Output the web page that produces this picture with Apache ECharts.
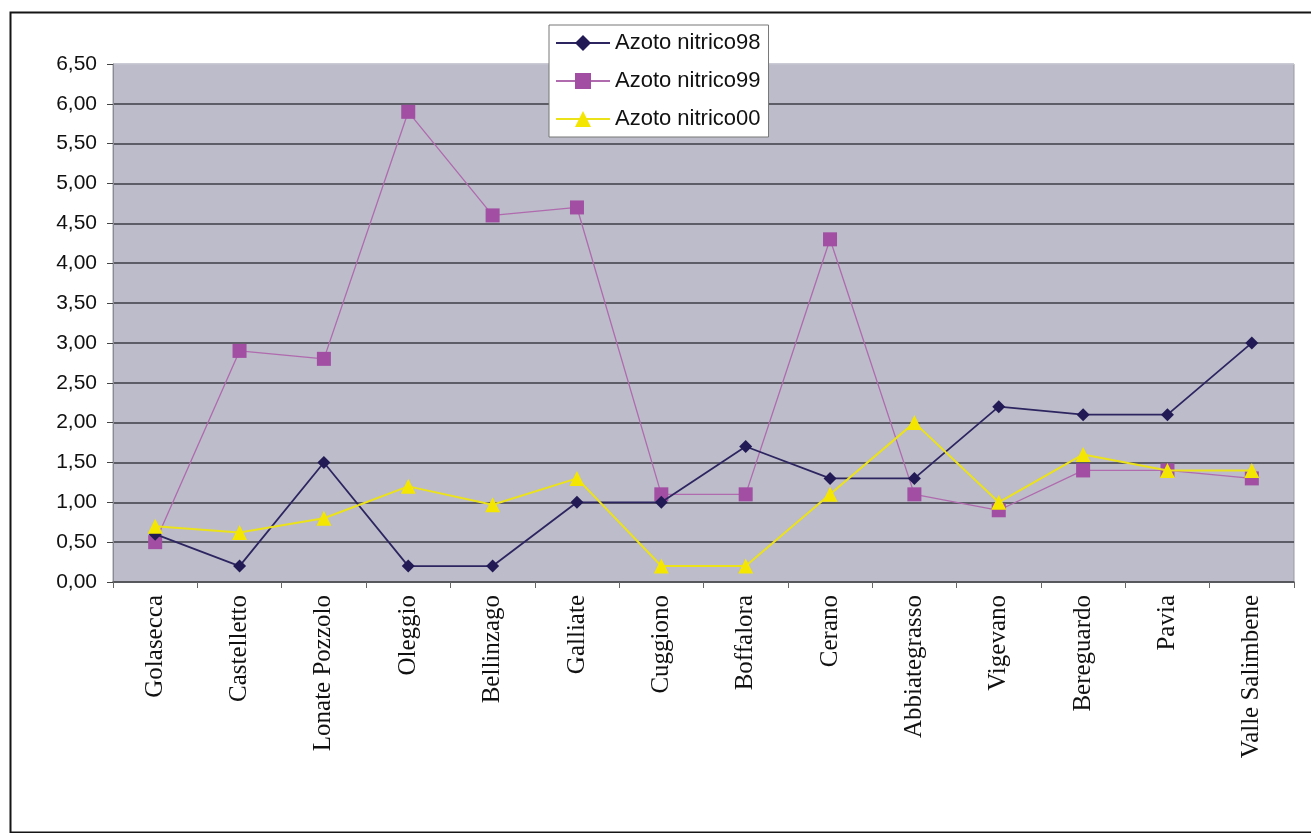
<!DOCTYPE html>
<html>
<head>
<meta charset="utf-8">
<script src="https://cdn.jsdelivr.net/npm/echarts@6/dist/echarts.min.js"></script>
<style>
html,body{margin:0;padding:0;background:#fff;}
#chart{width:1311px;height:833px;}
</style>
</head>
<body>
<div id="chart"></div>
<script>
const categories = ['Golasecca','Castelletto','Lonate Pozzolo','Oleggio','Bellinzago','Galliate','Cuggiono','Boffalora','Cerano','Abbiategrasso','Vigevano','Bereguardo','Pavia','Valle Salimbene'];
const azoto98 = [0.6, 0.2, 1.5, 0.2, 0.2, 1.0, 1.0, 1.7, 1.3, 1.3, 2.2, 2.1, 2.1, 3.0];
const azoto99 = [0.5, 2.9, 2.8, 5.9, 4.6, 4.7, 1.1, 1.1, 4.3, 1.1, 0.9, 1.4, 1.4, 1.3];
const azoto00 = [0.7, 0.62, 0.8, 1.2, 0.97, 1.3, 0.2, 0.2, 1.1, 2.0, 1.0, 1.6, 1.4, 1.4];
const seriesNames = ['Azoto nitrico98','Azoto nitrico99','Azoto nitrico00'];

const chart = echarts.init(document.getElementById('chart'));
const gridColors = [];
for (let i = 0; i < 13; i++) gridColors.push('#3e3e46');
gridColors.push('#cacad6');

chart.setOption({
  backgroundColor: '#ffffff',
  animation: false,
  graphic: [{
    type: 'rect', left: 8, top: 10, z: -1,
    shape: { width: 1320, height: 820 },
    style: { fill: 'none', stroke: '#151515', lineWidth: 2 }
  }],
  grid: {
    left: 113, right: 17, top: 64, bottom: 251,
    show: true, backgroundColor: '#bcbcca', borderColor: '#9a9aa6', borderWidth: 1
  },
  legend: {
    orient: 'vertical',
    left: 549, top: 25,
    data: seriesNames,
    backgroundColor: '#ffffff',
    borderColor: '#777777', borderWidth: 1,
    padding: [7, 8, 7, 6],
    itemWidth: 54, itemHeight: 20, itemGap: 16,
    textStyle: { fontFamily: 'Liberation Sans', fontSize: 22, color: '#111', lineHeight: 20 }
  },
  xAxis: {
    type: 'category',
    data: categories,
    boundaryGap: true,
    axisLine: { show: true, lineStyle: { color: '#55555c', width: 1.5 } },
    axisTick: { show: true, length: 6, lineStyle: { color: '#666' } },
    axisLabel: {
      rotate: 90, margin: 13, interval: 0,
      fontFamily: 'Liberation Serif', fontSize: 25, color: '#111'
    },
    splitLine: { show: false }
  },
  yAxis: {
    type: 'value', min: 0, max: 6.5, interval: 0.5,
    axisLine: { show: true, lineStyle: { color: '#8a8a94' } },
    axisTick: { show: true, length: 6, lineStyle: { color: '#444' } },
    axisLabel: {
      margin: 16,
      fontFamily: 'Liberation Sans', fontSize: 21, color: '#111',
      formatter: v => v.toFixed(2).replace('.', ',')
    },
    splitLine: { show: true, lineStyle: { color: gridColors, width: 1.5 } }
  },
  series: [
    {
      name: seriesNames[0], type: 'line', data: azoto98,
      symbol: 'diamond', symbolSize: 13,
      lineStyle: { color: '#2c2560', width: 1.8 },
      itemStyle: { color: '#221a55' }, z: 3
    },
    {
      name: seriesNames[1], type: 'line', data: azoto99,
      symbol: 'rect', symbolSize: 14,
      lineStyle: { color: '#b06aae', width: 1.3 },
      itemStyle: { color: '#a14ea3' }, z: 2
    },
    {
      name: seriesNames[2], type: 'line', data: azoto00,
      symbol: 'triangle', symbolSize: 15,
      lineStyle: { color: '#ece21a', width: 2 },
      itemStyle: { color: '#f4e600' }, z: 4
    }
  ]
});
</script>
</body>
</html>
